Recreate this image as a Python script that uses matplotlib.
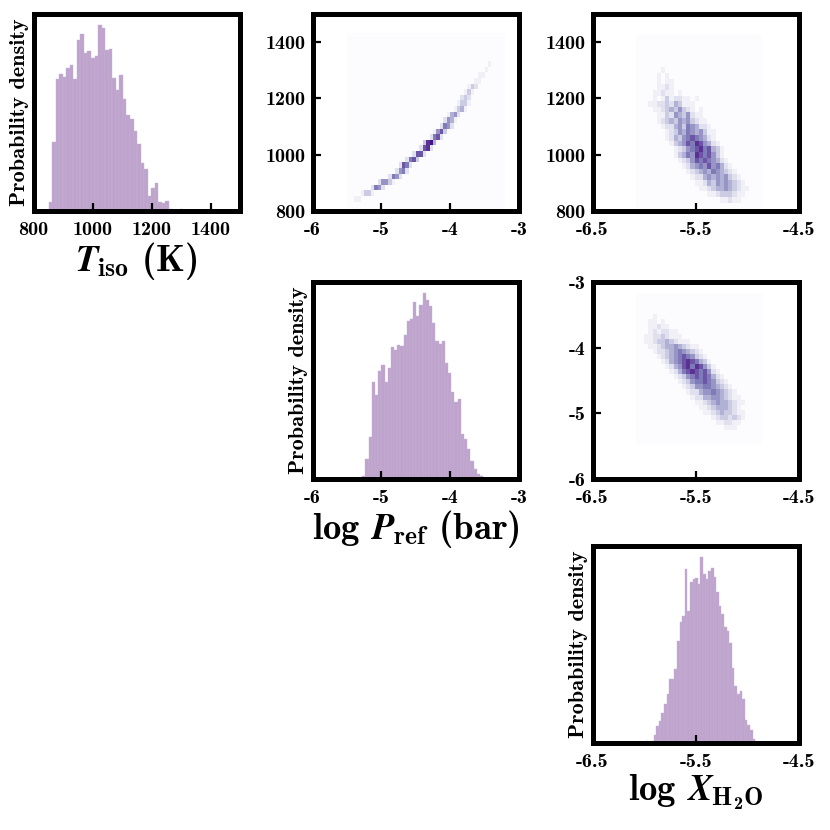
import numpy as np
import matplotlib
matplotlib.use('Agg')
import matplotlib.pyplot as plt

# Computer Modern bold for text, bold italic for the symbols
plt.rcParams['mathtext.fontset'] = 'custom'
plt.rcParams['mathtext.rm'] = 'cmb10'
plt.rcParams['mathtext.bf'] = 'cmb10'
plt.rcParams['mathtext.it'] = 'STIXGeneral:italic:bold'
plt.rcParams['font.family'] = 'cmb10'
plt.rcParams['axes.unicode_minus'] = False


# ---- 1D posteriors (bar heights, arbitrary units) ----
T_range = (839, 1319)
T_heights = [3, 28, 205, 393, 408, 400, 426, 435, 393, 510,
             528, 470, 475, 456, 461, 553, 545, 480, 483, 395,
             361, 405, 333, 287, 275, 238, 198, 143, 126, 45,
             68, 83, 26, 23, 29, 6, 1, 0, 6, 0]

P_range = (-5.277, -3.43)
P_heights = [8, 60, 125, 290, 250, 320, 340, 290, 330, 392,
             383, 400, 397, 428, 470, 477, 528, 485, 518, 553,
             533, 515, 465, 412, 402, 412, 345, 315, 260, 230,
             237, 135, 120, 90, 55, 30, 15, 8, 4, 2]

X_range = (-5.983, -4.925)
X_heights = [5, 3, 5, 25, 50, 65, 90, 115, 145, 190,
             190, 220, 305, 360, 380, 520, 395, 480, 490, 493,
             475, 555, 505, 490, 515, 523, 495, 450, 410, 385,
             345, 335, 300, 225, 170, 145, 155, 130, 70, 55,
             40, 12]

# ---- 2D posteriors: rows top->bottom, digits 0-9 = cell shade ----
# T vs log P (46 cols over logP, 32 rows over T)
A_x = (-5.5, -3.2, 46)
A_y = (1433, 793, 32)
A_start = [0, 0, 0, 0, 0, 41, 40, 38, 37, 35,
           34, 33, 32, 31, 29, 28, 27, 25, 24, 22,
           21, 19, 17, 15, 14, 12, 9, 7, 4, 2, 0, 0]
A_rows = ['', '', '', '', '', '1', '1', '11', '11', '132',
          '131', '232', '1331', '1341', '1452', '2541', '2652', '1573', '2672', '3894',
          '2782', '2772', '2673', '2762', '2562', '2652', '25531', '2652', '1331', '11',
          '', '']

# T vs log X (30 cols over logX, 32 rows over T)
B_x = (-6.08, -4.86, 30)
B_y = (1430, 790, 32)
B_start = [0, 0, 0, 0, 0, 0, 6, 5, 5, 4,
           4, 3, 3, 4, 5, 5, 6, 7, 7, 8,
           9, 9, 10, 11, 12, 13, 14, 15, 17, 19, 0, 0]
B_rows = ['', '', '', '', '', '', '1', '101', '10110', '011210',
          '1121101', '010131221101', '112232431110', '112343532101', '113254352110',
          '123435453211', '122453654221', '123546545311', '124356765421', '134576875421',
          '123567867431', '134658767531', '123576765421', '124565756421', '123454654321',
          '122454545321', '112435454321', '112344543211', '1123332110', '011211', '', '']

# log P vs log X (30 cols over logX, 30 rows over logP)
C_x = (-6.08, -4.86, 30)
C_y = (-3.18, -5.48, 30)
C_start = [0, 0, 0, 0, 4, 2, 2, 2, 2, 2,
           3, 4, 5, 6, 7, 8, 9, 10, 11, 12,
           13, 14, 15, 16, 18, 19, 21, 0, 0, 0]
C_rows = ['', '', '', '', '1', '01101', '0112110', '01212211', '1122321110', '11233432111',
          '112344543211', '122345654321', '123456765321', '124567876431', '124578687531',
          '124678767521', '123567676421', '123566765321', '123556654321', '122455654321',
          '122445543211', '112345443211', '1123444321', '1123433211', '12332321',
          '112211', '111', '', '', '']

T_ticks = [800, 1000, 1200, 1400]
P_ticks = [-6, -5, -4, -3]
X_ticks = [-6.5, -5.5, -4.5]
T_lim = (800, 1500)
P_lim = (-6, -3)
X_lim = (-6.5, -4.5)

T_label = r'$T_{\mathbf{iso}}$ (K)'
P_label = r'log $P_{\mathbf{ref}}$ (bar)'
X_label = r'log $X_{\mathbf{H_2O}}$'

hist_face = '#bea4cd'
hist_edge = '#c8b2d6'


def fmt(v):
    return '%g' % v


def style_axes(ax):
    for s in ax.spines.values():
        s.set_linewidth(3.6)
    ax.tick_params(direction='in', length=6, width=1.6, labelsize=14.5,
                   top=False, right=False)
    ax.tick_params(axis='x', pad=7)
    ax.tick_params(axis='y', pad=5)


def draw_hist(ax, rng, heights, lim, ticks, label):
    n = len(heights)
    edges = np.linspace(rng[0], rng[1], n + 1)
    ax.bar(edges[:-1], heights, width=np.diff(edges), align='edge',
           color=hist_face, edgecolor=hist_edge, linewidth=0.3)
    ax.set_xlim(*lim)
    ax.set_ylim(0, max(heights) * 1.06)
    ax.set_xticks(ticks)
    ax.set_xticklabels([fmt(t) for t in ticks])
    ax.set_yticks([])
    ax.set_ylabel('Probability density', fontsize=16, labelpad=3)
    ax.set_xlabel(label, fontsize=26.5, labelpad=1)


def draw_2d(ax, xspec, yspec, starts, rows, xlim, ylim, xticks, yticks):
    ncol, nrow = xspec[2], yspec[2]
    grid = np.zeros((nrow, ncol))
    for j, (s, r) in enumerate(zip(starts, rows)):
        for k, ch in enumerate(r):
            if s + k < ncol:
                grid[j, s + k] = int(ch)
    xe = np.linspace(xspec[0], xspec[1], ncol + 1)
    ye = np.linspace(yspec[0], yspec[1], nrow + 1)
    ax.pcolormesh(xe, ye, grid, cmap='Purples', vmin=0, vmax=9.5,
                  shading='flat', edgecolors='none', antialiased=False)
    ax.set_xlim(*xlim)
    ax.set_ylim(*ylim)
    ax.set_xticks(xticks)
    ax.set_xticklabels([fmt(t) for t in xticks])
    ax.set_yticks(yticks)
    ax.set_yticklabels([fmt(t) for t in yticks])


fig = plt.figure(figsize=(8.3, 8.3), dpi=100)

lefts = [33.5, 312.5, 592.5]
tops = [14, 282, 546]
w, h = 206.5, 197


def add_panel(r, c):
    rect = [lefts[c] / 830, 1 - (tops[r] + h) / 830, w / 830, h / 830]
    ax = fig.add_axes(rect)
    style_axes(ax)
    return ax


ax = add_panel(0, 0)
draw_hist(ax, T_range, T_heights, T_lim, T_ticks, T_label)

ax = add_panel(0, 1)
draw_2d(ax, A_x, A_y, A_start, A_rows, P_lim, T_lim, P_ticks, T_ticks)

ax = add_panel(0, 2)
draw_2d(ax, B_x, B_y, B_start, B_rows, X_lim, T_lim, X_ticks, T_ticks)

ax = add_panel(1, 1)
draw_hist(ax, P_range, P_heights, P_lim, P_ticks, P_label)

ax = add_panel(1, 2)
draw_2d(ax, C_x, C_y, C_start, C_rows, X_lim, P_lim, X_ticks, P_ticks)

ax = add_panel(2, 2)
draw_hist(ax, X_range, X_heights, X_lim, X_ticks, X_label)

fig.savefig('out.png', dpi=100)
